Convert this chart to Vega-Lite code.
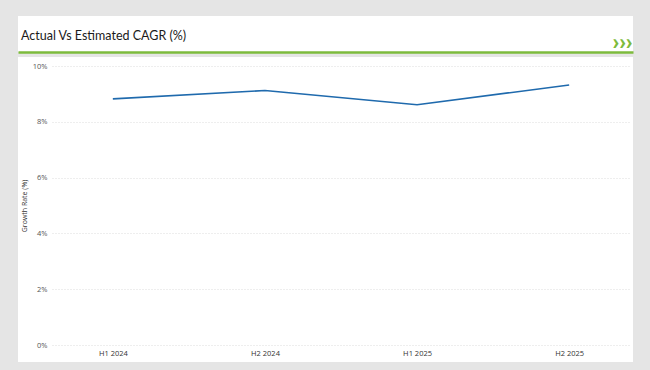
{
  "$schema": "https://vega.github.io/schema/vega-lite/v6.json",
  "background": "#e5e5e5",
  "padding": {"left": 18, "top": 16, "right": 17, "bottom": 8},
  "spacing": 5,
  "data": {"values": [
    {"period": "H1 2024", "rate": 8.82},
    {"period": "H2 2024", "rate": 9.12},
    {"period": "H1 2025", "rate": 8.61},
    {"period": "H2 2025", "rate": 9.32}
  ]},
  "config": {
    "view": {"stroke": null},
    "axis": {"labelFont": "Open Sans", "titleFont": "Open Sans"}
  },
  "vconcat": [
    {
      "width": 615,
      "height": 36,
      "view": {"fill": "white", "stroke": null},
      "title": {
        "text": "Actual Vs Estimated CAGR (%)",
        "anchor": "start",
        "offset": -26,
        "dx": 3,
        "font": "Lato",
        "fontSize": 12.5,
        "fontWeight": "normal",
        "color": "#1a1a1a"
      },
      "mark": {"type": "point", "opacity": 0},
      "encoding": {
        "x": {
          "field": "period", "type": "nominal",
          "axis": {
            "orient": "bottom",
            "domainColor": "#7dbb3c",
            "domainWidth": 2.5,
            "labels": false,
            "ticks": false,
            "grid": false,
            "title": "›››",
            "titleFont": "Roboto",
            "titleFontSize": 22,
            "titleFontWeight": 900,
            "titleColor": "#7dbb3c",
            "titleAnchor": "end",
            "titleAlign": "right",
            "titleBaseline": "alphabetic",
            "titleX": 614,
            "titleY": -4
          }
        }
      }
    },
    {
      "width": 615,
      "height": 305,
      "view": {"fill": "white", "stroke": null},
      "mark": {"type": "line", "color": "#1f6aad", "strokeWidth": 1.6},
      "encoding": {
        "x": {
          "field": "period", "type": "ordinal", "sort": null,
          "scale": {"type": "point", "range": [34, 612], "padding": 0.4},
          "axis": {
            "title": null,
            "domain": false,
            "ticks": false,
            "tickSize": 0,
            "grid": false,
            "labelAngle": 0,
            "labelFontSize": 7.5,
            "labelColor": "#333333",
            "labelPadding": 4,
            "offset": -17
          }
        },
        "y": {
          "field": "rate", "type": "quantitative",
          "scale": {"domain": [0, 10], "range": [288, 9], "nice": false},
          "axis": {
            "values": [0, 2, 4, 6, 8, 10],
            "format": ".0f",
            "labelExpr": "datum.label + '%'",
            "title": "Growth Rate (%)",
            "titleFontSize": 7,
            "titleFontWeight": "normal",
            "titleColor": "#333333",
            "titlePadding": 5,
            "domain": false,
            "ticks": false,
            "tickSize": 0,
            "labelPadding": 0,
            "labelFontSize": 7.5,
            "labelColor": "#555555",
            "offset": -29,
            "grid": true,
            "gridColor": "#dddddd",
            "gridDash": [1, 2],
            "gridWidth": 1
          }
        }
      }
    }
  ]
}
